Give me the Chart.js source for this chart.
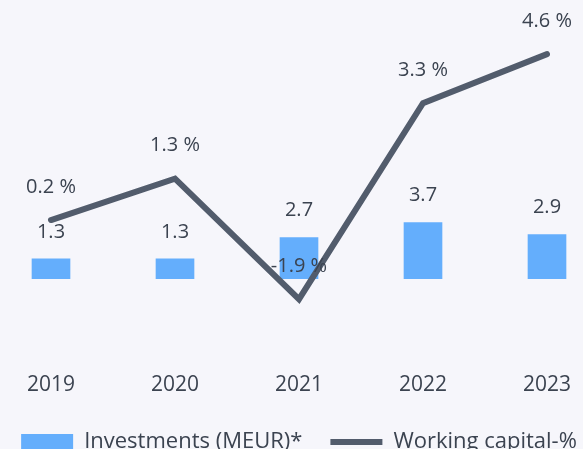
<!DOCTYPE html>
<html lang="en">
<head>
<meta charset="UTF-8">
<title>Investments and working capital</title>
<script src="https://cdn.jsdelivr.net/npm/chart.js@4.4.0/dist/chart.umd.min.js"></script>
<style>
  html, body { margin: 0; padding: 0; background: #f6f6fb; overflow: hidden; }
  #wrap { position: absolute; left: -11px; top: 0; width: 620px; height: 463px; }
</style>
</head>
<body>
<div id="wrap"><canvas id="chart"></canvas></div>
<script>
  // values
  const years = ['2019', '2020', '2021', '2022', '2023'];
  const investments = [1.3, 1.3, 2.7, 3.7, 2.9];
  const workingCapital = [0.2, 1.3, -1.9, 3.3, 4.6];

  const textColor = '#3b4350';
  const fontFamily = '"Open Sans", sans-serif';

  // simple value labels (no datalabels plugin available offline)
  const valueLabels = {
    id: 'valueLabels',
    afterDatasetsDraw(chart) {
      const ctx = chart.ctx;
      ctx.save();
      ctx.font = '20px ' + fontFamily;
      ctx.fillStyle = textColor;
      ctx.textAlign = 'center';
      ctx.textBaseline = 'middle';
      chart.data.datasets.forEach((ds, i) => {
        const meta = chart.getDatasetMeta(i);
        meta.data.forEach((el, j) => {
          const v = ds.data[j];
          if (ds.type === 'bar') {
            ctx.fillText(v.toFixed(1), el.x, el.y - 27);
          } else {
            ctx.fillText(v.toFixed(1) + ' %', el.x, el.y - 33);
          }
        });
      });
      ctx.restore();
    }
  };

  new Chart(document.getElementById('chart'), {
    data: {
      labels: years,
      datasets: [
        {
          type: 'line',
          label: 'Working capital-%',
          data: workingCapital,
          yAxisID: 'yLine',
          borderColor: '#525c6c',
          backgroundColor: '#525c6c',
          borderWidth: 6,
          borderCapStyle: 'round',
          tension: 0,
          pointRadius: 0,
          pointStyle: 'line',
          order: 0
        },
        {
          type: 'bar',
          label: 'Investments (MEUR)*',
          data: investments,
          yAxisID: 'yBar',
          backgroundColor: '#64aefc',
          borderWidth: 0,
          barThickness: 38,
          pointStyle: 'rect',
          order: 1
        }
      ]
    },
    options: {
      responsive: true,
      maintainAspectRatio: false,
      animation: false,
      layout: { padding: { top: 30, bottom: 0 } },
      plugins: {
        tooltip: { enabled: false },
        legend: {
          position: 'bottom',
          reverse: true,
          labels: {
            usePointStyle: true,
            pointStyleWidth: 52,
            boxHeight: 16,
            color: textColor,
            padding: 28,
            font: { family: fontFamily, size: 22 }
          }
        }
      },
      scales: {
        x: {
          grid: { display: false },
          border: { display: false },
          ticks: { color: textColor, font: { family: fontFamily, size: 21 }, padding: 6 },
          afterFit(scale) { scale.height -= 1; }
        },
        yBar: {
          position: 'left',
          display: false,
          min: -5.30,
          max: 16.42
        },
        yLine: {
          position: 'right',
          display: false,
          min: -3.48,
          max: 5.24
        }
      }
    },
    plugins: [valueLabels]
  });
</script>
</body>
</html>
